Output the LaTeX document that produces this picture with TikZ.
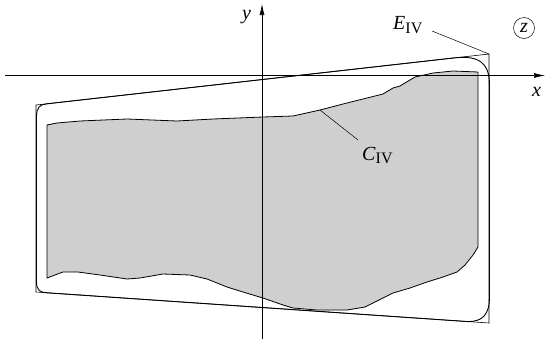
\documentclass[tikz,border=0pt]{standalone}
\usepackage{fontspec}
\setmainfont{Liberation Serif}
\usetikzlibrary{arrows.meta}
\begin{document}
\begin{tikzpicture}[x=1pt,y=-1pt,
  axisline/.style={line width=0.6pt,-{Latex[length=11pt,width=5pt]}},
  trapline/.style={line width=0.6pt,line join=miter},
  curveline/.style={line width=0.9pt,line join=round},
  region/.style={line width=0.8pt,line join=round,fill={rgb,255:red,207;green,207;blue,207}},
  leader/.style={line width=0.5pt},
  lbl/.style={inner sep=0pt,anchor=base west,font=\fontsize{20}{24}\selectfont},
  sublbl/.style={font=\fontsize{16}{18}\selectfont}]
\useasboundingbox (0,0) rectangle (545,341);
% trapezoid corners
\coordinate (A) at (36,105);
\coordinate (B) at (489,54);
\coordinate (C) at (489,323);
\coordinate (D) at (36,292);
% gray region C_IV
\draw[region] (47,125) -- (57,123) -- (80,121) -- (127,119) -- (177,121) -- (213,119)
  -- (263,117) -- (293,116) -- (320,110) coordinate (cpt) -- (343,104) -- (363,99) -- (383,94)
  -- (393,88) -- (400,86) -- (415,77) -- (433,73) -- (453,71) -- (478,72)
  -- (478,247) -- (473,255) -- (465,265) -- (457,272) -- (443,277) -- (427,282)
  -- (410,288) -- (393,293) -- (365,307) -- (347,310) -- (317,310) -- (293,308)
  -- (283,305) -- (263,298) -- (243,292) -- (227,287) -- (207,279) -- (190,275)
  -- (163,274) -- (140,278) -- (127,279) -- (100,275) -- (78,272) -- (63,272)
  -- (47,278) -- cycle;
% trapezoid
\draw[trapline] (A) -- (B) -- (C) -- (D) -- cycle;
% E_IV curve
\draw[curveline] (36.5,282) -- (36.5,117) .. controls (36.5,107) and (40,104.5) .. (47,103.8)
  -- (455,57.8) .. controls (478,55.5) and (489.5,62) .. (489.5,85)
  -- (489.5,297) .. controls (489.5,315) and (482,321.6) .. (468,321.6)
  -- (47,292.8) .. controls (40,292.5) and (36.5,290) .. (36.5,282) -- cycle;
% axes
\coordinate (xs) at (5,75.5);
\coordinate (xe) at (545,75.5);
\coordinate (ys) at (262,339);
\coordinate (ye) at (262,4);
\draw[axisline] (xs) -- (xe);
\draw[axisline] (ys) -- (ye);
\node[lbl] (xl) at (532,96.5) {\textit{x}};
\node[lbl] (yl) at (242,19) {\textit{y}};
% labels
\node[lbl] (El) at (393,29) {\textit{E}\raisebox{-4pt}{\fontsize{16}{18}\selectfont IV}};
\coordinate (Eleader) at (432,31);
\draw[leader] (Eleader) -- (B);
\node[lbl] (Cl) at (362,160) {\textit{C}\raisebox{-3pt}{\fontsize{16}{18}\selectfont IV}};
\coordinate (Cleader) at (358,140);
\draw[leader] (Cleader) -- (cpt);
% z in circle
\node[draw,circle,line width=0.5pt,minimum size=21pt,inner sep=0pt,font=\fontsize{20}{24}\selectfont] (zl) at (524,28) {\textit{z}};
\end{tikzpicture}
\end{document}
